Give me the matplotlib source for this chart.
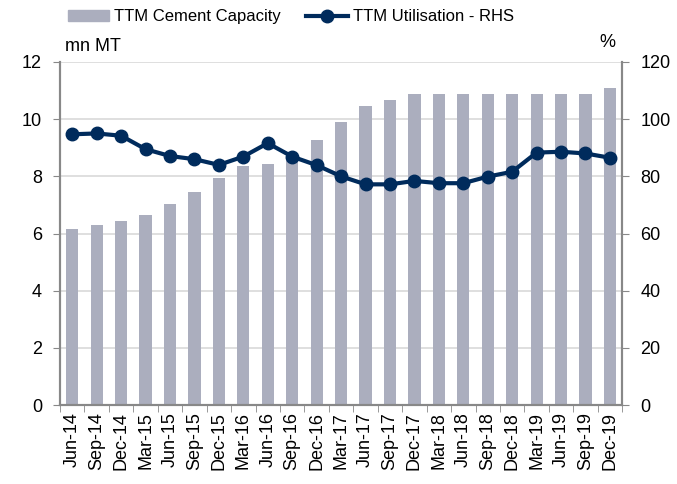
import matplotlib
matplotlib.use('Agg')
import matplotlib.pyplot as plt
import numpy as np

quarters = ['Jun-14', 'Sep-14', 'Dec-14', 'Mar-15', 'Jun-15', 'Sep-15', 'Dec-15', 'Mar-16',
            'Jun-16', 'Sep-16', 'Dec-16', 'Mar-17', 'Jun-17', 'Sep-17', 'Dec-17', 'Mar-18',
            'Jun-18', 'Sep-18', 'Dec-18', 'Mar-19', 'Jun-19', 'Sep-19', 'Dec-19']
capacity = [6.15, 6.29, 6.43, 6.64, 7.05, 7.46, 7.95, 8.37, 8.44, 8.6, 9.27, 9.9,
            10.46, 10.67, 10.89, 10.89, 10.89, 10.89, 10.89, 10.89, 10.89, 10.89, 11.08]
utilisation = [94.7, 95.0, 94.2, 89.5, 87.1, 86.0, 84.0, 86.9, 91.6, 86.9, 83.9, 80.0,
               77.2, 77.2, 78.4, 77.6, 77.6, 79.9, 81.6, 88.3, 88.6, 88.0, 86.5]

plt.rcParams['font.family'] = ['Liberation Sans', 'DejaVu Sans']
BAR = '#abaebe'
LINE = '#002b5c'
SPINE = '#888888'

fig = plt.figure(figsize=(6.77, 4.84), dpi=100)
ax = fig.add_axes([0.0886, 0.163, 0.8304, 0.709])
x = np.arange(len(quarters))

ax.bar(x, capacity, width=0.5, color=BAR, zorder=2)
ax.set_ylim(0, 12)
ax.set_yticks(range(0, 13, 2))
ax.set_xlim(-0.5, len(quarters) - 0.5)
ax.yaxis.grid(True, color='#d9d9d9', lw=1.2, zorder=0)
ax.set_axisbelow(True)

ax2 = ax.twinx()
ax2.plot(x, utilisation, '-o', color=LINE, lw=3, ms=9, zorder=3)
ax2.set_ylim(0, 120)
ax2.set_yticks(range(0, 121, 20))

# category boundary ticks on x axis
ax.set_xticks(x)
ax.set_xticklabels(quarters, rotation=90, fontsize=13)
ax.set_xticks(np.arange(-0.5, len(quarters), 1), minor=True)
ax.tick_params(axis='x', which='major', length=0, pad=5)
ax.tick_params(axis='x', which='minor', length=5, color=SPINE)
ax.tick_params(axis='y', labelsize=13, length=5, color=SPINE, pad=8)
ax2.tick_params(axis='y', labelsize=13, length=5, color=SPINE, pad=8)

for a in (ax, ax2):
    a.spines['top'].set_visible(False)
    for s in ('left', 'right', 'bottom'):
        a.spines[s].set_color(SPINE)
        a.spines[s].set_linewidth(1.5)

fig.text(0.096, 0.903, 'mn MT', fontsize=13, ha='left', va='center')
fig.text(0.897, 0.913, '%', fontsize=13, ha='center', va='center')

# legend
handles = [plt.Rectangle((0, 0), 1, 1, color=BAR),
           plt.Line2D([], [], color=LINE, lw=3, marker='o', ms=9)]
fig.legend(handles, ['TTM Cement Capacity', 'TTM Utilisation - RHS'],
           loc='upper left', bbox_to_anchor=(0.078, 1.012), ncol=2, frameon=False,
           fontsize=12, handlelength=2.5, handletextpad=0.3, columnspacing=1.5,
           handleheight=0.6)

fig.savefig('out.png', dpi=100)
